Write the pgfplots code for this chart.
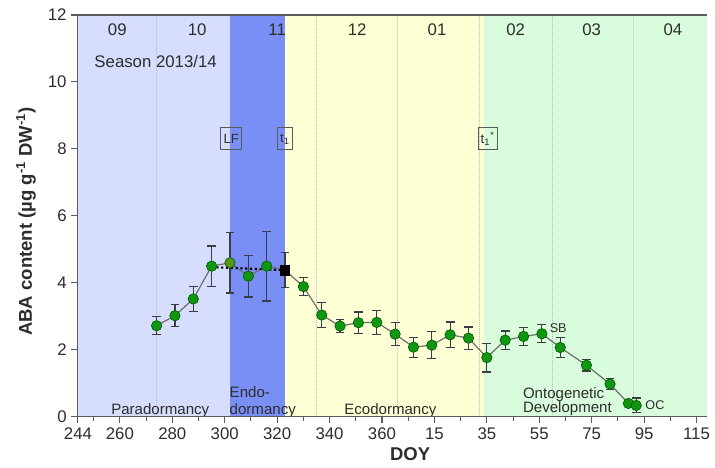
\documentclass[border=0pt]{standalone}
\usepackage{fontspec}
\setmainfont{Liberation Sans}
\usepackage{pgfplots}
\usepackage{pgfplotstable}
\pgfplotsset{compat=1.18}
\usetikzlibrary{calc}

\definecolor{paraBlue}{RGB}{215,221,253}
\definecolor{endoBlue}{RGB}{122,143,245}
\definecolor{ecoYellow}{RGB}{255,255,214}
\definecolor{ontoGreen}{RGB}{216,252,220}
\definecolor{ptGreen}{RGB}{16,150,16}
\definecolor{ptEdge}{RGB}{0,95,0}
\definecolor{ptOlive}{RGB}{90,150,25}
\definecolor{axisGray}{RGB}{90,90,90}
\definecolor{txtGray}{RGB}{45,45,45}
\definecolor{errGray}{RGB}{60,60,70}
\definecolor{lineGray}{RGB}{110,110,110}
\definecolor{monthGray}{RGB}{185,185,185}

% ABA content, all sampling dates (DOY counted on from 365 after new year)
\pgfplotstableread{
doy aba err
274 2.72 0.27
281 3.02 0.33
288 3.52 0.38
295 4.50 0.60
302 4.60 0.90
309 4.20 0.62
316 4.50 1.04
323 4.38 0.52
330 3.89 0.27
337 3.04 0.38
344 2.71 0.19
351 2.81 0.32
358 2.82 0.35
365 2.47 0.34
372 2.08 0.30
379 2.14 0.40
386 2.45 0.38
393 2.35 0.33
400 1.77 0.43
407 2.29 0.27
414 2.40 0.27
421 2.48 0.27
428 2.07 0.31
438 1.54 0.17
447 0.98 0.16
454 0.40 0.06
457 0.34 0.22
}\abaall

% same without the two points drawn in other styles (302 and 323)
\pgfplotstableread{
doy aba
274 2.72
281 3.02
288 3.52
295 4.50
309 4.20
316 4.50
330 3.89
337 3.04
344 2.71
351 2.81
358 2.82
365 2.47
372 2.08
379 2.14
386 2.45
393 2.35
400 1.77
407 2.29
414 2.40
421 2.48
428 2.07
438 1.54
447 0.98
454 0.40
457 0.34
}\abamarks

\begin{document}
\begin{tikzpicture}
\begin{axis}[
  name=main,
  scale only axis,
  width=472pt, height=301.5pt,
  xmin=244, xmax=484, ymin=0, ymax=12,
  axis on top,
  axis x line*=bottom, axis y line*=left,
  axis line style={axisGray, line width=0.8pt},
  xtick={244,260,280,300,320,340,360,380,400,420,440,460,480},
  xticklabels={244,260,280,300,320,340,360,15,35,55,75,95,115},
  minor xtick={250,270,290,310,330,350,370,390,410,430,450,470},
  ytick={0,2,4,6,8,10,12},
  tick align=outside,
  major tick length=5pt, minor tick length=3pt,
  tick style={axisGray, line width=0.8pt},
  ticklabel style={font=\fontsize{12.6}{14}\selectfont, text=txtGray},
  /pgf/number format/assume math mode=true,
  xlabel={DOY},
  ylabel={ABA content (µg g\textsuperscript{-1} DW\textsuperscript{-1})},
  label style={font=\fontsize{13.9}{16}\selectfont\bfseries, text=txtGray},
  xlabel style={at={(axis description cs:0.528,-0.092)}, anchor=center},
  ylabel style={at={(axis description cs:-0.0826,0.486)}, anchor=center},
]
% phase backgrounds
\fill[paraBlue] (axis cs:244,0) rectangle (axis cs:302,12);
\fill[endoBlue] (axis cs:302,0) rectangle (axis cs:323,12);
\fill[ecoYellow] (axis cs:323,0) rectangle (axis cs:399,12);
\fill[ontoGreen] (axis cs:399,0) rectangle (axis cs:484,12);

% month borders
\draw[monthGray, densely dotted, line width=0.5pt] (axis cs:274,0) -- (axis cs:274,12);
\draw[monthGray, densely dotted, line width=0.5pt] (axis cs:335,0) -- (axis cs:335,12);
\draw[monthGray, densely dotted, line width=0.5pt] (axis cs:366,0) -- (axis cs:366,12);
\draw[monthGray, densely dotted, line width=0.5pt] (axis cs:397,0) -- (axis cs:397,12);
\draw[monthGray, densely dotted, line width=0.5pt] (axis cs:425,0) -- (axis cs:425,12);
\draw[monthGray, densely dotted, line width=0.5pt] (axis cs:456,0) -- (axis cs:456,12);

% month names
\begin{scope}[every node/.style={font=\fontsize{12.6}{14}\selectfont, text=txtGray}]
\node at (axis cs:259,11.55) {09};
\node at (axis cs:289.5,11.55) {10};
\node at (axis cs:320,11.55) {11};
\node at (axis cs:350.5,11.55) {12};
\node at (axis cs:381,11.55) {01};
\node at (axis cs:411,11.55) {02};
\node at (axis cs:440,11.55) {03};
\node at (axis cs:471,11.55) {04};
\node[anchor=west] at (axis cs:248.5,10.6) {Season 2013/14};
\end{scope}

% phase names
\begin{scope}[every node/.style={font=\fontsize{11.3}{13}\selectfont, text=txtGray, inner sep=0pt}]
\node[anchor=base] at (axis cs:275.4,0.08) {Paradormancy};
\node[anchor=base west] at (axis cs:301.8,0.57) {Endo-};
\node[anchor=base west] at (axis cs:301.8,0.08) {dormancy};
\node[anchor=base] at (axis cs:363.2,0.07) {Ecodormancy};
\node[anchor=base west] at (axis cs:413.7,0.56) {Ontogenetic};
\node[anchor=base west] at (axis cs:413.7,0.12) {Development};
\end{scope}

% boxed event marks
\begin{scope}[every node/.style={font=\fontsize{10}{11}\selectfont, text=txtGray, draw=axisGray,
    line width=0.6pt, minimum height=16.5pt, inner xsep=2pt, inner ysep=1pt}]
\node at (axis cs:302.5,8.3) {LF};
\node at (axis cs:323,8.3) {t\textsubscript{1}};
\node at (axis cs:400.3,8.3) {t\textsubscript{1}\textsuperscript{*}};
\end{scope}

% connecting line with error bars
\addplot[lineGray, line width=0.9pt, no markers,
  error bars/.cd, y dir=both, y explicit,
  error bar style={errGray, line width=0.9pt},
  error mark options={rotate=90, mark size=3.3pt, errGray, line width=0.9pt}]
  table[x=doy, y=aba, y error=err] {\abaall};

% dotted reference line
\addplot[black, line width=1.6pt, dotted] coordinates {(295,4.47) (323,4.38)};

% points
\addplot[only marks, mark=*, mark size=3.9pt,
  mark options={fill=ptGreen, draw=ptEdge, line width=0.5pt}]
  table[x=doy, y=aba] {\abamarks};
\addplot[only marks, mark=*, mark size=3.9pt,
  mark options={fill=ptOlive, draw=ptEdge, line width=0.5pt}]
  coordinates {(302,4.60)};
\addplot[only marks, mark=square*, mark size=3.5pt,
  mark options={fill=black, draw=black}]
  coordinates {(323,4.38)};

\node[anchor=base west, font=\fontsize{9.5}{11}\selectfont, text=txtGray, inner sep=0pt]
  at (axis cs:423.9,2.51) {SB};
\node[anchor=base west, font=\fontsize{9.5}{11}\selectfont, text=txtGray, inner sep=0pt]
  at (axis cs:460.4,0.21) {OC};

\draw[axisGray, line width=0.8pt] (rel axis cs:0,1) -- (rel axis cs:1,1);
\end{axis}
\pgfresetboundingbox
\path[use as bounding box] ($(main.south west)+(-58.5pt,-38.25pt)$)
  rectangle ($(main.north east)+(6pt,11.25pt)$);
\end{tikzpicture}
\end{document}
